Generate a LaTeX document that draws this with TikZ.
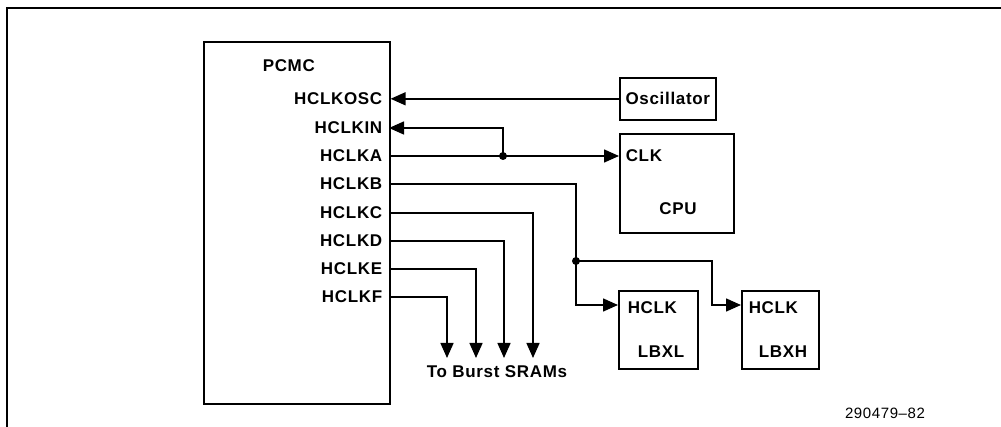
\documentclass[tikz,border=0pt]{standalone}
\usepackage{fontspec}
\setmainfont{Liberation Sans}[LetterSpace=4]
\usetikzlibrary{arrows.meta}
\begin{document}
\begin{tikzpicture}[x=1pt,y=-1pt,
  line width=1.5pt,
  box/.style={draw,line width=1.6pt,anchor=north west,inner sep=0pt},
  lbl/.style={inner sep=0pt,font=\bfseries\fontsize{17}{19}\selectfont},
  arr/.style={-{Triangle[length=15pt,width=13pt]}},
  jdot/.style={circle,fill=black,inner sep=0pt,minimum size=8pt}]
\useasboundingbox (0,0) rectangle (1001,427);
% frame
\draw[line width=1.6pt] (7,427) -- (7,8) -- (1001,8);
% boxes
\node[box,minimum width=186pt,minimum height=362pt] (pcmc) at (203,41) {};
\node[box,minimum width=96pt,minimum height=42pt,lbl] (osc) at (619,77) {Oscillator};
\node[box,minimum width=114pt,minimum height=99pt] (cpu) at (619,133) {};
\node[box,minimum width=79pt,minimum height=78pt] (lbxl) at (618,290) {};
\node[box,minimum width=77pt,minimum height=78pt] (lbxh) at (741,290) {};
% labels
\node[lbl,anchor=west] (tpcmc) at (262,66) {PCMC};
\node[lbl,anchor=east] (tosc) at (383,99) {HCLKOSC};
\node[lbl,anchor=east] (tin) at (383,128) {HCLKIN};
\node[lbl,anchor=east] (ta) at (383,156) {HCLKA};
\node[lbl,anchor=east] (tb) at (383,184) {HCLKB};
\node[lbl,anchor=east] (tc) at (383,213) {HCLKC};
\node[lbl,anchor=east] (td) at (383,241) {HCLKD};
\node[lbl,anchor=east] (te) at (383,269) {HCLKE};
\node[lbl,anchor=east] (tf) at (383,297) {HCLKF};
\node[lbl,anchor=west] (tclk) at (625,156) {CLK};
\node[lbl] (tcpu) at (678,209) {CPU};
\node[lbl,anchor=west] (thl) at (627,308) {HCLK};
\node[lbl] (tlbxl) at (661,352) {LBXL};
\node[lbl,anchor=west] (thh) at (748,308) {HCLK};
\node[lbl] (tlbxh) at (783,352) {LBXH};
\node[lbl] (tsram) at (497,372) {To Burst SRAMs};
\node[inner sep=0pt,font=\fontsize{15}{17}\selectfont] (tnum) at (885,413) {290479--82};
% pin coordinates
\coordinate (pin) at (389,128);
\coordinate (pa) at (389,156);
\coordinate (pb) at (389,184);
\coordinate (pc) at (389,213);
\coordinate (pd) at (389,241);
\coordinate (pe) at (389,269);
\coordinate (pf) at (389,297);
\coordinate (ja) at (503,156);
\coordinate (jb) at (576,261);
\coordinate (inl) at (618,305);
\coordinate (inh) at (741,305);
\coordinate (sc) at (533,358);
\coordinate (sd) at (504,358);
\coordinate (se) at (476,358);
\coordinate (sf) at (447,358);
% connectors
\draw[arr] (osc.west) -- (pcmc.east |- osc.west);
\draw[arr] (ja) -- (ja |- pin) -- (pin);
\draw[arr] (pa) -- (cpu.west |- pa);
\node[jdot] (dota) at (ja) {};
\draw[arr] (pb) -- (jb |- pb) -- (jb |- inl) -- (inl);
\draw[arr] (jb) -- (712,261) -- (712,305) -- (inh);
\node[jdot] (dotb) at (jb) {};
\draw[arr] (pc) -- (sc |- pc) -- (sc);
\draw[arr] (pd) -- (sd |- pd) -- (sd);
\draw[arr] (pe) -- (se |- pe) -- (se);
\draw[arr] (pf) -- (sf |- pf) -- (sf);
\end{tikzpicture}
\end{document}
